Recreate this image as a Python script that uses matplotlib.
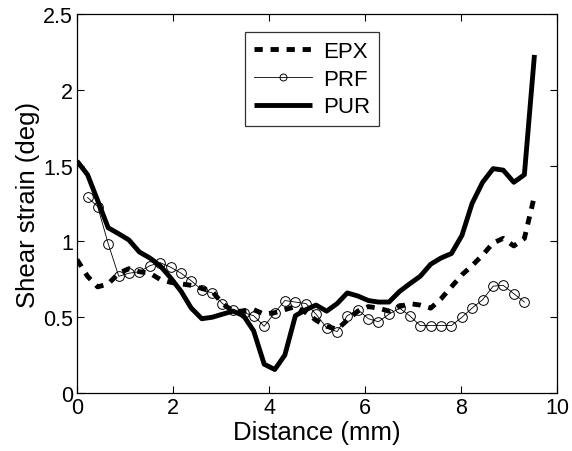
import matplotlib
matplotlib.use("Agg")
import matplotlib.pyplot as plt

plt.rcParams['font.family'] = ['Liberation Sans', 'DejaVu Sans']

# sample positions along the specimen (mm)
distance = [0.00, 0.22, 0.43, 0.65, 0.87, 1.08, 1.30, 1.52, 1.73, 1.95,
            2.17, 2.38, 2.60, 2.82, 3.03, 3.25, 3.47, 3.68, 3.90, 4.12,
            4.33, 4.55, 4.77, 4.98, 5.20, 5.42, 5.63, 5.85, 6.07, 6.28,
            6.50, 6.72, 6.93, 7.15, 7.37, 7.58, 7.80, 8.02, 8.23, 8.45,
            8.67, 8.88, 9.10, 9.32, 9.53]

epx = [0.88, 0.77, 0.70, 0.72, 0.79, 0.82, 0.80, 0.79, 0.75, 0.73,
       0.72, 0.71, 0.69, 0.67, 0.59, 0.54, 0.54, 0.55, 0.52, 0.53,
       0.55, 0.57, 0.53, 0.48, 0.44, 0.42, 0.48, 0.54, 0.57, 0.56,
       0.54, 0.57, 0.59, 0.58, 0.56, 0.62, 0.70, 0.78, 0.84, 0.91,
       0.99, 1.02, 0.97, 1.02, 1.30]

# PRF starts at the second sample and stops one before the end
prf = [1.29, 1.23, 0.985, 0.77, 0.79, 0.80, 0.84, 0.86, 0.83,
       0.79, 0.74, 0.68, 0.66, 0.59, 0.545, 0.53, 0.51, 0.44, 0.53,
       0.61, 0.60, 0.59, 0.52, 0.43, 0.405, 0.51, 0.55, 0.49, 0.47,
       0.52, 0.56, 0.51, 0.445, 0.445, 0.445, 0.445, 0.50, 0.56, 0.615,
       0.705, 0.71, 0.655, 0.60]

pur = [1.53, 1.44, 1.27, 1.09, 1.05, 1.01, 0.93, 0.89, 0.84, 0.76,
       0.67, 0.56, 0.49, 0.50, 0.52, 0.54, 0.51, 0.41, 0.19, 0.155,
       0.25, 0.51, 0.55, 0.58, 0.54, 0.59, 0.66, 0.64, 0.61, 0.60,
       0.60, 0.67, 0.72, 0.77, 0.85, 0.89, 0.92, 1.04, 1.25, 1.39,
       1.48, 1.47, 1.39, 1.44, 2.23]

xticks = [0, 2, 4, 6, 8, 10]
yticks = [0, 0.5, 1, 1.5, 2, 2.5]
ytick_labels = ['0', '0.5', '1', '1.5', '2', '2.5']

fig = plt.figure(figsize=(5.72, 4.52), dpi=100)
ax = fig.add_axes([0.1346, 0.1283, 0.8392, 0.8385])

ax.plot(distance, epx, color='k', lw=3.5, linestyle=(0, (1.7, 1.6)),
        dash_capstyle='butt', label='EPX')
ax.plot(distance[1:1 + len(prf)], prf, color='k', lw=0.6, marker='o',
        markersize=7, markerfacecolor='none', markeredgewidth=0.7, label='PRF')
ax.plot(distance, pur, color='k', lw=3.5, solid_capstyle='butt', label='PUR')

ax.set_xlim(0, 10)
ax.set_ylim(0, 2.5)
ax.set_xticks(xticks)
ax.set_xticklabels([str(t) for t in xticks])
ax.set_yticks(yticks)
ax.set_yticklabels(ytick_labels)
ax.tick_params(direction='in', top=True, right=True, length=5, width=0.8,
               labelsize=15.5, pad=3)
for s in ax.spines.values():
    s.set_linewidth(0.9)

ax.set_xlabel('Distance (mm)', fontsize=18.5, labelpad=1)
ax.set_ylabel('Shear strain (deg)', fontsize=18.5, labelpad=2)

leg = ax.legend(loc='upper center', bbox_to_anchor=(0.49, 0.952), fontsize=16,
                frameon=True, fancybox=False, edgecolor='k', handlelength=2.6,
                handletextpad=0.5, borderpad=0.4, labelspacing=0.3,
                borderaxespad=0)
leg.get_frame().set_linewidth(0.9)
leg.legend_handles[1].set_markersize(5)

fig.savefig('out.png', dpi=100)
